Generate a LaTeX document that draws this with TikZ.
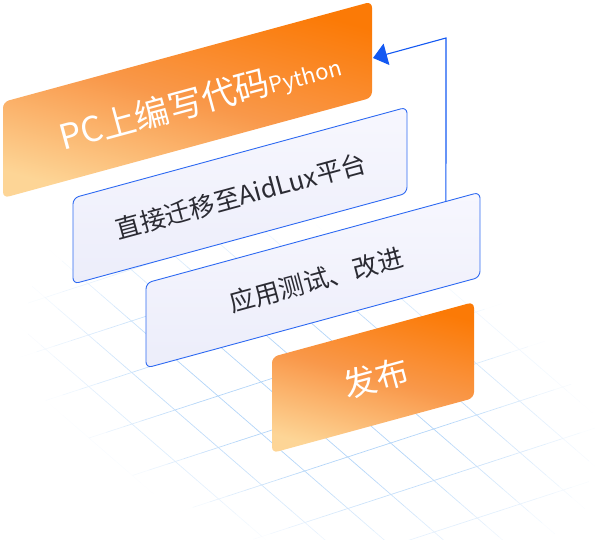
\documentclass[tikz,border=0pt]{standalone}
\usepackage{fontspec}
\setmainfont{Noto Sans CJK SC}
\usetikzlibrary{arrows.meta,calc}
\definecolor{deepor}{HTML}{FB7A06}
\definecolor{midor}{HTML}{F9984A}
\definecolor{paleor}{HTML}{FDD596}
\definecolor{boxfill}{HTML}{ECEDFA}
\definecolor{boxtop}{HTML}{F7F7FE}
\definecolor{boxline}{HTML}{2D69F2}
\definecolor{arrowblue}{HTML}{1459F2}
\definecolor{txtdark}{HTML}{2B2B33}
\definecolor{gridblue}{HTML}{B3D5F8}

\tikzset{
  orangebox/.style={top color=deepor, bottom color=paleor, middle color=midor, shading angle=-15, rounded corners=6pt},
  lightbox/.style={draw=boxline, line width=0.9pt, top color=boxtop, bottom color=boxfill, rounded corners=6pt},
  whitetxt/.style={text=white, rotate=15.2, inner sep=0pt},
  darktxt/.style={text=txtdark, rotate=15.2, inner sep=0pt, font=\fontsize{25.5}{25.5}\selectfont},
  gridline/.style={line width=0.7pt},
  flow/.style={draw=arrowblue, line width=1.1pt},
}

% draw one grid line as short segments whose colour fades with distance from the centre
\newcommand{\fadeline}[4]{% start x, start y, total dx, total dy
  \pgfmathsetmacro{\ddx}{(#3)/60}
  \pgfmathsetmacro{\ddy}{(#4)/60}
  \foreach \s in {0,...,59}{
    \pgfmathsetmacro{\xa}{#1+\s*\ddx}
    \pgfmathsetmacro{\ya}{#2+\s*\ddy}
    \pgfmathsetmacro{\xm}{\xa+0.5*\ddx-310}
    \pgfmathsetmacro{\ym}{\ya+0.5*\ddy-390}
    \pgfmathsetmacro{\uu}{(0.95*\xm+0.31*\ym)/300}
    \pgfmathsetmacro{\vv}{(0.95*\ym-0.31*\xm)/160}
    \pgfmathsetmacro{\rr}{sqrt(\uu*\uu+\vv*\vv)}
    \pgfmathsetmacro{\op}{max(0,min(1,(1-\rr)/0.55))*100}
    \ifdim\op pt>0.5pt
      \draw[gridline, color={gridblue!\op!white}] (\xa,\ya) -- ++(\ddx,\ddy);
    \fi
  }%
}

\begin{document}
\begin{tikzpicture}[x=1pt,y=-1pt]
\useasboundingbox (0,0) rectangle (595,540);

% background grid
\foreach \n in {-9,...,7}{
  \pgfmathsetmacro{\sx}{175+\n*43.3-12*43}
  \pgfmathsetmacro{\sy}{410+\n*37.5+12*14}
  \fadeline{\sx}{\sy}{1032}{-336}
}
\foreach \m in {-10,...,14}{
  \pgfmathsetmacro{\sx}{175+\m*43-9*43.3}
  \pgfmathsetmacro{\sy}{410-\m*14-9*37.5}
  \fadeline{\sx}{\sy}{779.4}{675}
}

% box corners
\coordinate (b1tl) at (3,102);   \coordinate (b1tr) at (372,1.6);
\coordinate (b1br) at (372,97.6); \coordinate (b1bl) at (3,198);
\coordinate (b2tl) at (73,198);  \coordinate (b2tr) at (407,107.2);
\coordinate (b2br) at (407,193.2); \coordinate (b2bl) at (73,284);
\coordinate (b3tl) at (146,283); \coordinate (b3tr) at (480,192.2);
\coordinate (b3br) at (480,277.2); \coordinate (b3bl) at (146,368);
\coordinate (b4tl) at (272,357); \coordinate (b4tr) at (474,302);
\coordinate (b4br) at (474,398); \coordinate (b4bl) at (272,453);

\path[orangebox] (b4tl) -- (b4tr) -- (b4br) -- (b4bl) -- cycle;
\path[lightbox] (b3tl) -- (b3tr) -- (b3br) -- (b3bl) -- cycle;
\path[lightbox] (b2tl) -- (b2tr) -- (b2br) -- (b2bl) -- cycle;
\path[orangebox] (b1tl) -- (b1tr) -- (b1br) -- (b1bl) -- cycle;

% texts
\node[whitetxt] (t1) at (200,101) {\fontsize{34.5}{34.5}\selectfont PC上编写代码\fontsize{22}{22}\selectfont Python};
\node[darktxt] (t2) at (241,196) {直接迁移至AidLux平台};
\node[darktxt] (t3) at (316,280) {应用测试、改进};
\node[whitetxt, font=\fontsize{33}{33}\selectfont] (t4) at (376,378) {发布};

% feedback connector
\coordinate (cstart) at ($(b3tl)!0.898!(b3tr)$);
\coordinate (cbend) at (446,38);
\coordinate (ctip) at (373,58);
\draw[flow, -{Triangle[length=14pt,width=22pt]}] (cstart) -- (cbend) -- (ctip);
\end{tikzpicture}
\end{document}
